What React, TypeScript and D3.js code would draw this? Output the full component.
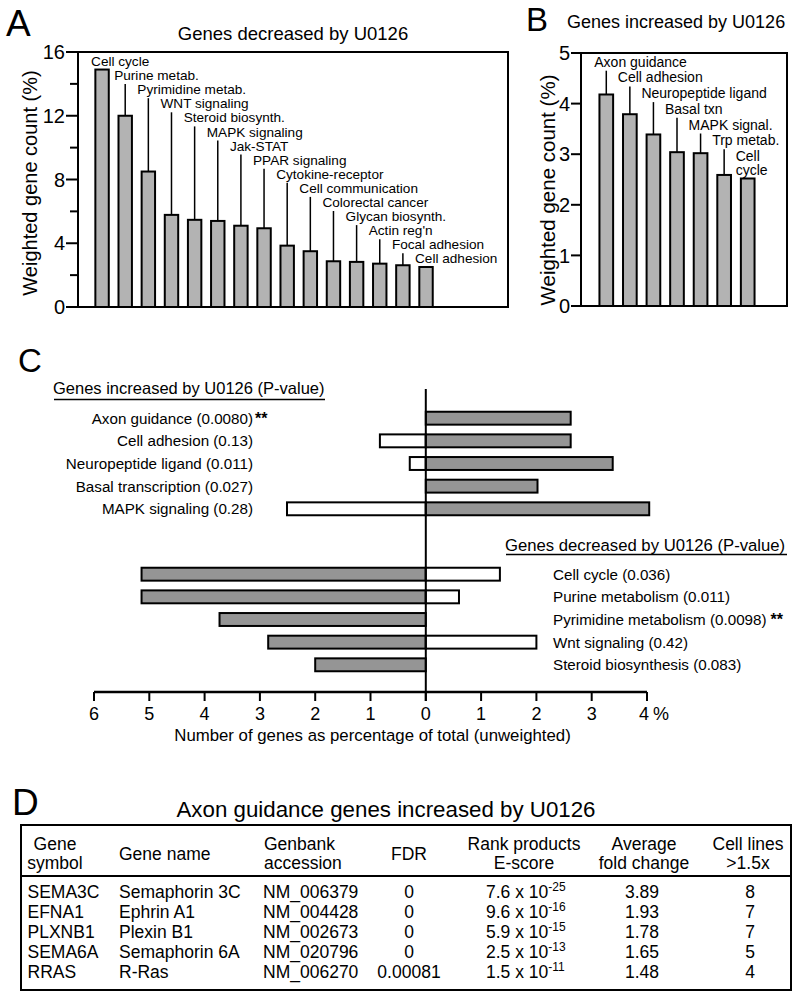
import React from 'react';
import * as d3 from 'd3';

const FONT = '"Liberation Sans", Arial, Helvetica, sans-serif';

// ---------- Panel A data ----------
const decCategories = ['Cell cycle', 'Purine metab.', 'Pyrimidine metab.', 'WNT signaling', 'Steroid biosynth.', 'MAPK signaling', 'Jak-STAT', 'PPAR signaling', 'Cytokine-receptor', 'Cell communication', 'Colorectal cancer', 'Glycan biosynth.', "Actin reg'n", 'Focal adhesion', 'Cell adhesion'];
const decValues = [14.9, 12.0, 8.5, 5.78, 5.47, 5.4, 5.1, 4.94, 3.85, 3.5, 2.87, 2.83, 2.72, 2.62, 2.51];
const decTicks = [0, 4, 8, 12, 16];
const decMinorTicks = [2, 6, 10, 14];

// ---------- Panel B data ----------
const incCategories = ['Axon guidance', 'Cell adhesion', 'Neuropeptide ligand', 'Basal txn', 'MAPK signal.', 'Trp metab.', 'Cell\ncycle'];
const incValues = [4.18, 3.79, 3.39, 3.04, 3.02, 2.59, 2.52];
const incTicks = [0, 1, 2, 3, 4, 5];

// ---------- Panel C data ----------
const cIncLabels = ['Axon guidance (0.0080)', 'Cell adhesion (0.13)', 'Neuropeptide ligand (0.011)', 'Basal transcription (0.027)', 'MAPK signaling (0.28)'];
const cIncStars = ['**', '', '', '', ''];
const cIncGrey = [2.62, 2.62, 3.38, 2.02, 4.04];
const cIncWhite = [0, -0.83, -0.29, 0, -2.51];
const cDecLabels = ['Cell cycle (0.036)', 'Purine metabolism (0.011)', 'Pyrimidine metabolism (0.0098)', 'Wnt signaling (0.42)', 'Steroid biosynthesis (0.083)'];
const cDecStars = ['', '', '**', '', ''];
const cDecGrey = [-5.14, -5.14, -3.73, -2.85, -2.0];
const cDecWhite = [1.34, 0.6, 0, 2.0, 0];
const cTicks = [-6, -5, -4, -3, -2, -1, 0, 1, 2, 3, 4];
const cTickLabels = ['6', '5', '4', '3', '2', '1', '0', '1', '2', '3', '4'];

// ---------- Panel D data ----------
const tSymbols = ['SEMA3C', 'EFNA1', 'PLXNB1', 'SEMA6A', 'RRAS'];
const tNames = ['Semaphorin 3C', 'Ephrin A1', 'Plexin B1', 'Semaphorin 6A', 'R-Ras'];
const tAccessions = ['NM_006379', 'NM_004428', 'NM_002673', 'NM_020796', 'NM_006270'];
const tFDR = ['0', '0', '0', '0', '0.00081'];
const tEMantissa = ['7.6', '9.6', '5.9', '2.5', '1.5'];
const tEExponent = ['-25', '-16', '-15', '-13', '-11'];
const tFold = ['3.89', '1.93', '1.78', '1.65', '1.48'];
const tCellLines = ['8', '7', '7', '5', '4'];

const BAR_FILL = '#b3b3b3';
const C_FILL = '#959595';

type BarPanelProps = {
  cats: string[]; vals: number[]; yMax: number; ticks: number[]; minor: number[];
  x0: number; x1: number; yTop: number; yBot: number; b0: number; b1: number;
  labelDx: number; labelY0: number; labelStep: number; labelSize: number;
  tickLen: number; minorLen: number; tickLabelSize: number;
  yTitleX: number; yTitleY: number; yTitleSize: number;
};

function BarPanel(p: BarPanelProps) {
  const y = d3.scaleLinear().domain([0, p.yMax]).range([p.yBot, p.yTop]);
  const x = d3.scaleBand().domain(p.cats).range([p.b0, p.b1]).paddingInner(0.42).paddingOuter(0.21);
  const bw = x.bandwidth();
  return (
    <g>
      {p.cats.map((c, i) => {
        const cx = (x(c) as number) + bw / 2;
        const top = y(p.vals[i]);
        const lines = c.split('\n');
        const base = p.labelY0 + p.labelStep * i;
        const lastBase = base + (lines.length - 1) * 14;
        const lineTop = lastBase + 4;
        return (
          <g key={c}>
            <rect x={x(c)} y={top} width={bw} height={p.yBot - top} fill={BAR_FILL} stroke="#000" strokeWidth={2} />
            <text x={cx - p.labelDx} y={base} fontSize={p.labelSize} fontFamily={FONT}>
              {lines.map((l, k) => (
                <tspan key={k} x={cx - p.labelDx} y={base + k * 14}>{l}</tspan>
              ))}
            </text>
            {top - lineTop > 2 && (
              <line x1={cx} x2={cx} y1={lineTop} y2={top} stroke="#000" strokeWidth={1.5} />
            )}
          </g>
        );
      })}
      <rect x={p.x0} y={p.yTop} width={p.x1 - p.x0} height={p.yBot - p.yTop} fill="none" stroke="#000" strokeWidth={2} />
      {p.ticks.map((t) => (
        <g key={'t' + t}>
          <line x1={p.x0 - p.tickLen} x2={p.x0} y1={y(t)} y2={y(t)} stroke="#000" strokeWidth={2} />
          <text x={p.x0 - p.tickLen - 1} y={y(t)} dy="0.36em" textAnchor="end" fontSize={p.tickLabelSize} fontFamily={FONT}>{t}</text>
        </g>
      ))}
      {p.minor.map((t) => (
        <line key={'m' + t} x1={p.x0 - p.minorLen} x2={p.x0} y1={y(t)} y2={y(t)} stroke="#000" strokeWidth={2} />
      ))}
      <text transform={`translate(${p.yTitleX},${p.yTitleY}) rotate(-90)`} textAnchor="middle" fontSize={p.yTitleSize} fontFamily={FONT}>Weighted gene count (%)</text>
    </g>
  );
}

function PanelC() {
  const x = d3.scaleLinear().domain([-6, 4]).range([94, 647]);
  const yInc = d3.scaleBand().domain(cIncLabels).range([402, 525]).padding(0.43);
  const yDec = d3.scaleBand().domain(cDecLabels).range([558, 681]).padding(0.43);
  const axisY = 692;
  const bar = (v: number, yy: number, h: number, fill: string, key: string) =>
    v === 0 ? null : (
      <rect key={key} x={Math.min(x(0), x(v))} y={yy} width={Math.abs(x(v) - x(0))} height={h} fill={fill} stroke="#000" strokeWidth={2} />
    );
  const incH = yInc.bandwidth();
  const decH = yDec.bandwidth();
  return (
    <g fontFamily={FONT}>
      <text x={18} y={372} fontSize={33}>C</text>
      {/* increased header */}
      <text x={53} y={394} fontSize={16.5}>Genes increased by U0126 (P-value)</text>
      <line x1={54} x2={325} y1={399.5} y2={399.5} stroke="#000" strokeWidth={1.5} />
      {cIncLabels.map((l, i) => {
        const yy = yInc(l) as number;
        return (
          <g key={l}>
            {bar(cIncWhite[i], yy, incH, '#fff', 'w')}
            {bar(cIncGrey[i], yy, incH, C_FILL, 'g')}
            <text x={253} y={yy + incH / 2} dy="0.36em" textAnchor="end" fontSize={15.2}>{l}</text>
            {cIncStars[i] && (
              <text x={255} y={yy + incH / 2} dy="0.36em" fontSize={16} fontWeight="bold">{cIncStars[i]}</text>
            )}
          </g>
        );
      })}
      {/* decreased header */}
      <text x={505} y={551} fontSize={16.7}>Genes decreased by U0126 (P-value)</text>
      <line x1={506} x2={787} y1={554.5} y2={554.5} stroke="#000" strokeWidth={1.5} />
      {cDecLabels.map((l, i) => {
        const yy = yDec(l) as number;
        return (
          <g key={l}>
            {bar(cDecGrey[i], yy, decH, C_FILL, 'g')}
            {bar(cDecWhite[i], yy, decH, '#fff', 'w')}
            <text x={553} y={yy + decH / 2} dy="0.36em" fontSize={15.2}>
              {l}
              {cDecStars[i] && <tspan dx={4} fontSize={16} fontWeight="bold">{cDecStars[i]}</tspan>}
            </text>
          </g>
        );
      })}
      {/* zero line and axis */}
      <line x1={x(0)} x2={x(0)} y1={389} y2={axisY + 9} stroke="#000" strokeWidth={2} />
      <line x1={x(-6)} x2={x(4)} y1={axisY} y2={axisY} stroke="#000" strokeWidth={2.5} />
      {cTicks.map((t, i) => (
        <g key={t}>
          <line x1={x(t)} x2={x(t)} y1={axisY} y2={axisY + 9} stroke="#000" strokeWidth={2} />
          <text x={t === 4 ? x(t) - 3 : x(t)} y={720} textAnchor="middle" fontSize={18}>{cTickLabels[i]}</text>
        </g>
      ))}
      <text x={x(4) + 6} y={720} fontSize={18}>%</text>
      <text x={372.5} y={741} textAnchor="middle" fontSize={16.8}>Number of genes as percentage of total (unweighted)</text>
    </g>
  );
}

function PanelD() {
  const rowY = d3.scalePoint<number>().domain(d3.range(tSymbols.length)).range([898, 978]);
  const hs = 17.5;
  const h1 = 849.5, h2 = 868.5, hm = 860;
  return (
    <g fontFamily={FONT}>
      <text x={12} y={815} fontSize={37}>D</text>
      <text x={386} y={817} textAnchor="middle" fontSize={22.3}>Axon guidance genes increased by U0126</text>
      <rect x={21} y={825} width={770} height={165} fill="none" stroke="#000" strokeWidth={2} />
      <line x1={21} x2={791} y1={876} y2={876} stroke="#000" strokeWidth={2} />
      <g fontSize={hs}>
        <text x={55} y={h1} textAnchor="middle">Gene</text>
        <text x={55} y={h2} textAnchor="middle">symbol</text>
        <text x={119} y={hm}>Gene name</text>
        <text x={264} y={h1}>Genbank</text>
        <text x={264} y={h2}>accession</text>
        <text x={409} y={hm} textAnchor="middle">FDR</text>
        <text x={524} y={h1} textAnchor="middle">Rank products</text>
        <text x={524} y={h2} textAnchor="middle">E-score</text>
        <text x={644} y={h1} textAnchor="middle">Average</text>
        <text x={644} y={h2} textAnchor="middle">fold change</text>
        <text x={748} y={h1} textAnchor="middle">Cell lines</text>
        <text x={748} y={h2} textAnchor="middle">&gt;1.5x</text>
      </g>
      <g fontSize={17.5}>
        {tSymbols.map((s, i) => {
          const yy = rowY(i) as number;
          return (
            <g key={s}>
              <text x={27.5} y={yy}>{s}</text>
              <text x={119} y={yy}>{tNames[i]}</text>
              <text x={263} y={yy}>{tAccessions[i]}</text>
              <text x={409} y={yy} textAnchor="middle">{tFDR[i]}</text>
              <text x={486} y={yy}>
                {tEMantissa[i] + ' x 10'}
                <tspan dy={-7} fontSize={12}>{tEExponent[i]}</tspan>
              </text>
              <text x={642} y={yy} textAnchor="middle">{tFold[i]}</text>
              <text x={750} y={yy} textAnchor="middle">{tCellLines[i]}</text>
            </g>
          );
        })}
      </g>
    </g>
  );
}

export default function App() {
  return (
    <svg width={800} height={996} viewBox="0 0 800 996" style={{ position: 'absolute', left: 0, top: 0, background: '#fff' }}>
      <rect x={0} y={0} width={800} height={996} fill="#fff" />
      <g fontFamily={FONT}>
        <text x={6} y={36} fontSize={37}>A</text>
        <text x={293} y={40} textAnchor="middle" fontSize={18.5}>Genes decreased by U0126</text>
        <BarPanel cats={decCategories} vals={decValues} yMax={16} ticks={decTicks} minor={decMinorTicks}
          x0={78} x1={508} yTop={52} yBot={307} b0={90.5} b1={437.6}
          labelDx={11} labelY0={66} labelStep={14.1} labelSize={13.6}
          tickLen={12} minorLen={8} tickLabelSize={20}
          yTitleX={37} yTitleY={183} yTitleSize={20} />
        <text x={526} y={31} fontSize={33}>B</text>
        <text x={567} y={28} fontSize={18}>Genes increased by U0126</text>
        <BarPanel cats={incCategories} vals={incValues} yMax={5} ticks={incTicks} minor={[]}
          x0={581} x1={787} yTop={53} yBot={306} b0={594.5} b1={759.5}
          labelDx={12} labelY0={66.7} labelStep={15.7} labelSize={14}
          tickLen={10} minorLen={0} tickLabelSize={20}
          yTitleX={555} yTitleY={190} yTitleSize={20.5} />
      </g>
      <PanelC />
      <PanelD />
    </svg>
  );
}
